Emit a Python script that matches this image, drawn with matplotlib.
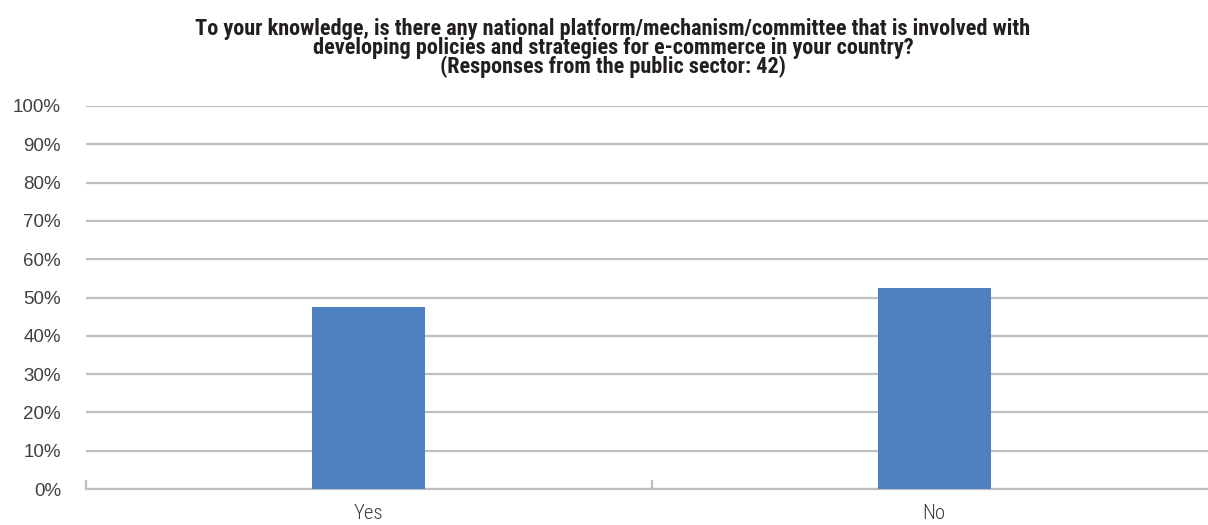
import matplotlib
matplotlib.use("Agg")
import matplotlib.pyplot as plt
from matplotlib import font_manager
from matplotlib.ticker import FixedLocator, PercentFormatter

# ---- data ----
categories = ["Yes", "No"]
values = [47.6, 52.4]
title_lines = [
    "To your knowledge, is there any national platform/mechanism/committee that is involved with",
    "developing policies and strategies for e-commerce in your country?",
    "(Responses from the public sector: 42)",
]
yticks = list(range(0, 101, 10))

# ---- fonts ----
names = {f.name for f in font_manager.fontManager.ttflist}
def pick(cands, default="DejaVu Sans"):
    for c in cands:
        if c in names:
            return c
    return default

title_font = pick(["Liberation Sans Narrow", "Roboto Condensed", "Arial Narrow", "Liberation Sans"])
xlab_font = pick(["Roboto Condensed", "Liberation Sans Narrow", "Liberation Sans"])
ylab_font = pick(["Liberation Sans", "Roboto", "DejaVu Sans"])

W, H = 1208, 525
fig = plt.figure(figsize=(W / 100, H / 100), dpi=100)
fig.patch.set_facecolor("white")

ax_left, ax_right_px = 86, 1217
ax_top, ax_bot = 106, 489
ax = fig.add_axes([ax_left / W, (H - ax_bot) / H, (ax_right_px - ax_left) / W, (ax_bot - ax_top) / H])

grid_c = "#BFBFBF"
x = list(range(len(categories)))
ax.bar(x, values, width=0.2, color="#4E7FC0", zorder=3)
ax.set_xlim(-0.5, len(categories) - 0.5)
ax.set_ylim(0, 100)
ax.yaxis.set_major_locator(FixedLocator(yticks))
ax.yaxis.set_major_formatter(PercentFormatter(decimals=0))
ax.grid(axis="y", color=grid_c, linewidth=1.6, zorder=0)
ax.set_axisbelow(True)
for s in ["left", "right", "top"]:
    ax.spines[s].set_visible(False)
ax.spines["bottom"].set_color(grid_c)
ax.spines["bottom"].set_linewidth(1.6)

ax.set_xticks(x)
ax.set_xticklabels(categories)
ax.xaxis.set_minor_locator(FixedLocator([i - 0.5 for i in range(len(categories) + 1)]))
ax.tick_params(axis="x", which="major", length=0, pad=11)
ax.tick_params(axis="x", which="minor", direction="in", length=6.5, width=1.6, color=grid_c)
ax.tick_params(axis="y", length=0, pad=18)
for lab in ax.get_yticklabels():
    lab.set_fontfamily(ylab_font)
    lab.set_fontsize(13.5)
    lab.set_color("#404040")
for lab in ax.get_xticklabels():
    lab.set_fontfamily(xlab_font)
    lab.set_fontweight("light")
    lab.set_fontsize(15)
    lab.set_color("#404040")

# ---- title (auto-fit width of first line) ----
renderer = fig.canvas.get_renderer()
base = 14.5
t0 = fig.text(0.5, 0.5, title_lines[0], fontfamily=title_font, fontweight="bold", fontsize=base)
w = t0.get_window_extent(renderer).width
t0.remove()
fs = min(base * 844.0 / w, 16)
t1 = fig.text(0.5, 0.5, "lp", fontfamily=title_font, fontweight="bold", fontsize=fs)
h_lp = t1.get_window_extent(renderer).height
t1.remove()
ls = 18.0 / h_lp
cx = 613 / W
fig.text(cx, (H - 18) / H, "\n".join(title_lines), ha="center", va="top",
         multialignment="center", linespacing=ls,
         fontfamily=title_font, fontweight="bold", fontsize=fs, color="#231F20")

fig.savefig("out.png", dpi=100, facecolor="white")
